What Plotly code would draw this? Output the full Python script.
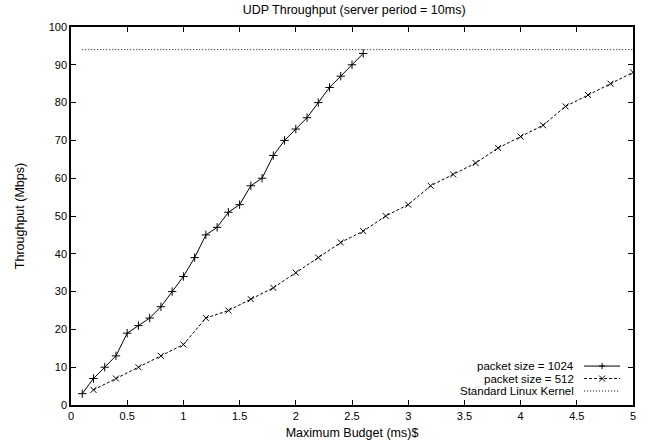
import plotly.graph_objects as go

# packet size = 1024
budget_1024 = [0.1, 0.2, 0.3, 0.4, 0.5, 0.6, 0.7, 0.8, 0.9, 1.0, 1.1, 1.2, 1.3,
               1.4, 1.5, 1.6, 1.7, 1.8, 1.9, 2.0, 2.1, 2.2, 2.3, 2.4, 2.5, 2.6]
tput_1024 = [3, 7, 10, 13, 19, 21, 23, 26, 30, 34, 39, 45, 47,
             51, 53, 58, 60, 66, 70, 73, 76, 80, 84, 87, 90, 93]

# packet size = 512
budget_512 = [0.2, 0.4, 0.6, 0.8, 1.0, 1.2, 1.4, 1.6, 1.8, 2.0, 2.2, 2.4, 2.6,
              2.8, 3.0, 3.2, 3.4, 3.6, 3.8, 4.0, 4.2, 4.4, 4.6, 4.8, 5.0]
tput_512 = [4, 7, 10, 13, 16, 23, 25, 28, 31, 35, 39, 43, 46,
            50, 53, 58, 61, 64, 68, 71, 74, 79, 82, 85, 88]

# standard linux kernel
kernel_x = [0.1, 5.0]
kernel_y = [94, 94]

series_names = ['packet size = 1024', 'packet size = 512', 'Standard Linux Kernel']
series_dash = ['solid', '3px,2px', '1px,2px']
series_symbol = ['cross-thin', 'x-thin', None]

font = 'Liberation Sans, Arial, sans-serif'

fig = go.Figure()
fig.add_trace(go.Scatter(
    x=budget_1024, y=tput_1024, mode='lines+markers', name=series_names[0],
    line=dict(color='black', width=1, dash=series_dash[0]),
    marker=dict(symbol=series_symbol[0], size=6, line=dict(color='black', width=1))
))
fig.add_trace(go.Scatter(
    x=budget_512, y=tput_512, mode='lines+markers', name=series_names[1],
    line=dict(color='black', width=1, dash=series_dash[1]),
    marker=dict(symbol=series_symbol[1], size=6, line=dict(color='black', width=1))
))
fig.add_trace(go.Scatter(
    x=kernel_x, y=kernel_y, mode='lines', name=series_names[2],
    line=dict(color='black', width=1, dash=series_dash[2])
))

# gnuplot style key: text right-aligned, sample to its right
key_rows = [0.103, 0.070, 0.037]
for name, dash, sym, yk in zip(series_names, series_dash, series_symbol, key_rows):
    fig.add_annotation(xref='paper', yref='paper', x=0.899, y=yk, text=name,
                       showarrow=False, xanchor='right', yanchor='middle',
                       font=dict(size=11.5))
    fig.add_shape(type='line', xref='paper', yref='paper', x0=0.913, x1=0.977,
                  y0=yk, y1=yk, line=dict(color='black', width=1, dash=dash))
    if sym == 'cross-thin':
        path = 'M-3,0 L3,0 M0,-3 L0,3'
    elif sym == 'x-thin':
        path = 'M-3,-3 L3,3 M-3,3 L3,-3'
    else:
        continue
    fig.add_shape(type='path', xref='paper', yref='paper', xsizemode='pixel',
                  ysizemode='pixel', xanchor=0.945, yanchor=yk, path=path,
                  line=dict(color='black', width=1))

axis_style = dict(
    showline=True, mirror='ticks', linecolor='black', linewidth=1.5,
    ticks='inside', ticklen=5, tickcolor='black', tickwidth=1,
    showgrid=False, zeroline=False, automargin=False,
    tickfont=dict(family=font, size=11, color='black'),
)

fig.update_layout(
    width=651, height=446,
    margin=dict(l=71, r=18, t=27, b=41),
    paper_bgcolor='white', plot_bgcolor='white',
    font=dict(family=font, size=11, color='black'),
    showlegend=False,
    title=dict(text='UDP Throughput (server period = 10ms)', x=0.544, xanchor='center',
               y=0.978, yanchor='middle', font=dict(size=12.5)),
    xaxis=dict(range=[0, 5], dtick=0.5, title=dict(text='Maximum Budget (ms)$', standoff=7,
               font=dict(size=12.5)), **axis_style),
    yaxis=dict(range=[0, 100], dtick=10, title=dict(text='Throughput (Mbps)', standoff=21,
               font=dict(size=12.5)), **axis_style),
)

fig.write_html('out.html', config={'displayModeBar': False},
               post_script="document.body.style.margin='0';")
